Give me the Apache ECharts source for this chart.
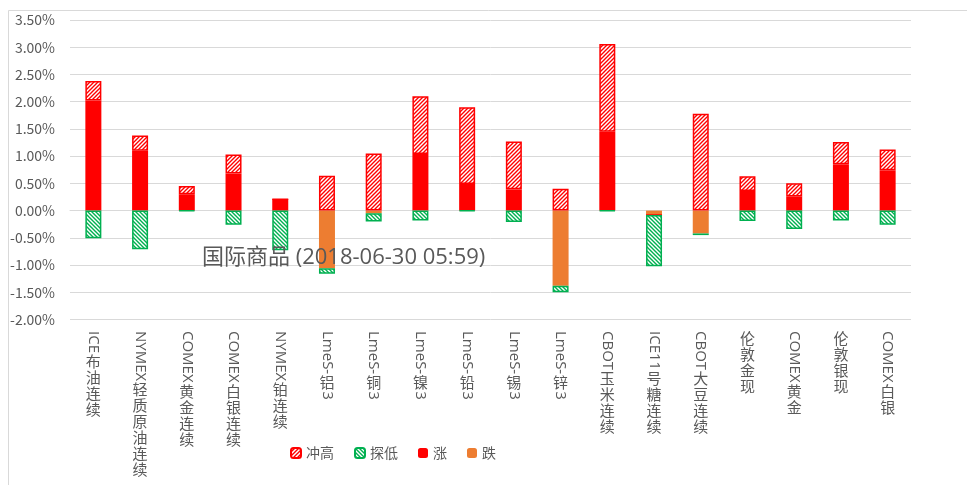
<!DOCTYPE html>
<html>
<head>
<meta charset="utf-8">
<title>国际商品</title>
<script src="https://cdn.jsdelivr.net/npm/echarts@6/dist/echarts.min.js"></script>
<style>
  html, body { margin: 0; padding: 0; background: #fff; }
  #main { width: 967px; height: 485px; }
</style>
</head>
<body>
<div id="main"></div>
<script>
// 品种
const categories = [
  'ICE布油连续', 'NYMEX轻质原油连续', 'COMEX黄金连续', 'COMEX白银连续', 'NYMEX铂连续',
  'LmeS-铝3', 'LmeS-铜3', 'LmeS-镍3', 'LmeS-铅3', 'LmeS-锡3', 'LmeS-锌3',
  'CBOT玉米连续', 'ICE11号糖连续', 'CBOT大豆连续', '伦敦金现', 'COMEX黄金', '伦敦银现', 'COMEX白银'
]
// 单位: %
const riseValues = [2.02, 1.10, 0.30, 0.68, 0.21, 0, 0, 1.04, 0.49, 0.39, 0, 1.45, 0, 0, 0.36, 0.26, 0.85, 0.74]
const fallValues = [0, 0, 0, 0, 0, -1.06, -0.05, 0, 0, 0, -1.38, 0, -0.08, -0.42, 0, 0, 0, 0]
const highValues = [0.36, 0.28, 0.15, 0.35, 0, 0.64, 1.05, 1.06, 1.41, 0.88, 0.40, 1.61, 0, 1.78, 0.27, 0.24, 0.41, 0.38]
const lowValues = [-0.51, -0.71, -0.01, -0.26, -0.73, -0.10, -0.15, -0.18, -0.01, -0.21, -0.12, -0.01, -0.94, -0.03, -0.19, -0.34, -0.18, -0.26]
const yTicks = { min: -2, max: 3.5, step: 0.5 }

const textColor = '#595959'
const fontFamily = '"Noto Sans CJK SC", "Noto Sans", sans-serif'
const latinFamily = '"Open Sans", "Noto Sans CJK SC", sans-serif'

const makeHatch = (color, up) => {
  const c = document.createElement('canvas')
  c.width = 4
  c.height = 4
  const ctx = c.getContext('2d')
  ctx.fillStyle = '#fff'
  ctx.fillRect(0, 0, 4, 4)
  ctx.strokeStyle = color
  ctx.lineWidth = 1.4
  ctx.beginPath()
  if (up) {
    ctx.moveTo(-1, 5); ctx.lineTo(5, -1)
    ctx.moveTo(-2, 2); ctx.lineTo(2, -2)
    ctx.moveTo(2, 6); ctx.lineTo(6, 2)
  } else {
    ctx.moveTo(-1, -1); ctx.lineTo(5, 5)
    ctx.moveTo(-2, 2); ctx.lineTo(2, 6)
    ctx.moveTo(2, -2); ctx.lineTo(6, 2)
  }
  ctx.stroke()
  return c
}

const chart = echarts.init(document.getElementById('main'))

chart.setOption({
  animation: false,
  backgroundColor: '#fff',
  title: {
    text: '国际商品 (2018-06-30 05:59)',
    left: 197,
    top: 242,
    textStyle: { color: textColor, fontSize: 22, fontWeight: 'normal', fontFamily: latinFamily },
  },
  legend: {
    data: ['冲高', '探低', '涨', '跌'],
    left: 285,
    top: 441,
    itemWidth: 10,
    itemHeight: 10,
    itemGap: 20,
    textStyle: { color: textColor, fontSize: 14, fontFamily },
  },
  grid: { left: 70, right: 56, top: 20, bottom: 165.5 },
  xAxis: {
    type: 'category',
    data: categories,
    axisLine: { onZero: true, lineStyle: { color: '#d9d9d9' } },
    axisTick: { show: false },
    axisLabel: { show: false },
  },
  yAxis: {
    type: 'value',
    min: yTicks.min,
    max: yTicks.max,
    interval: yTicks.step,
    axisLine: { show: false },
    axisTick: { show: false },
    splitLine: { lineStyle: { color: '#d9d9d9' } },
    axisLabel: {
      color: textColor,
      fontSize: 14,
      fontFamily,
      margin: 15,
      formatter: (v) => v.toFixed(2) + '%',
    },
  },
  series: [
    {
      name: '涨',
      type: 'bar',
      stack: 'a',
      barWidth: 16,
      data: riseValues,
      itemStyle: { color: '#ff0000' },
    },
    {
      name: '跌',
      type: 'bar',
      stack: 'a',
      barWidth: 16,
      data: fallValues,
      itemStyle: { color: '#ed7d31' },
    },
    {
      name: '冲高',
      type: 'bar',
      stack: 'a',
      barWidth: 16,
      data: highValues,
      itemStyle: {
        color: { image: makeHatch('#ff0000', true), repeat: 'repeat' },
        borderColor: '#ff0000',
        borderWidth: 1.5,
      },
    },
    {
      name: '探低',
      type: 'bar',
      stack: 'a',
      barWidth: 16,
      data: lowValues,
      itemStyle: {
        color: { image: makeHatch('#00b050', false), repeat: 'repeat' },
        borderColor: '#00b050',
        borderWidth: 1.5,
      },
    },
  ],
})

// 竖排标签: 拉丁字符顺时针旋转, 汉字直立
const measure = document.createElement('canvas').getContext('2d')
const labelSize = 15
measure.font = labelSize + 'px ' + latinFamily

const buildLabels = () => {
  const elements = [
    {
      type: 'rect',
      shape: { x: 8.5, y: 10.5, width: 1000, height: 1000 },
      style: { fill: 'none', stroke: '#d9d9d9', lineWidth: 1 },
      silent: true,
    },
  ]
  categories.forEach((name, i) => {
    const cx = chart.convertToPixel({ xAxisIndex: 0 }, i)
    let y = 331
    const runs = name.match(/[\x00-\x7f]+|[^\x00-\x7f]/g)
    runs.forEach((run) => {
      if (/^[\x00-\x7f]+$/.test(run)) {
        elements.push({
          type: 'text',
          x: cx,
          y: y,
          rotation: -Math.PI / 2,
          silent: true,
          style: {
            text: run,
            fill: textColor,
            fontSize: labelSize,
            fontFamily: latinFamily,
            align: 'left',
            verticalAlign: 'middle',
          },
        })
        y += measure.measureText(run).width + 1
      } else {
        elements.push({
          type: 'text',
          x: cx,
          y: y,
          silent: true,
          style: {
            text: run,
            fill: textColor,
            fontSize: labelSize,
            fontFamily,
            align: 'center',
            verticalAlign: 'top',
          },
        })
        y += 16
      }
    })
  })
  chart.setOption({ graphic: elements })
}

buildLabels()
</script>
</body>
</html>
